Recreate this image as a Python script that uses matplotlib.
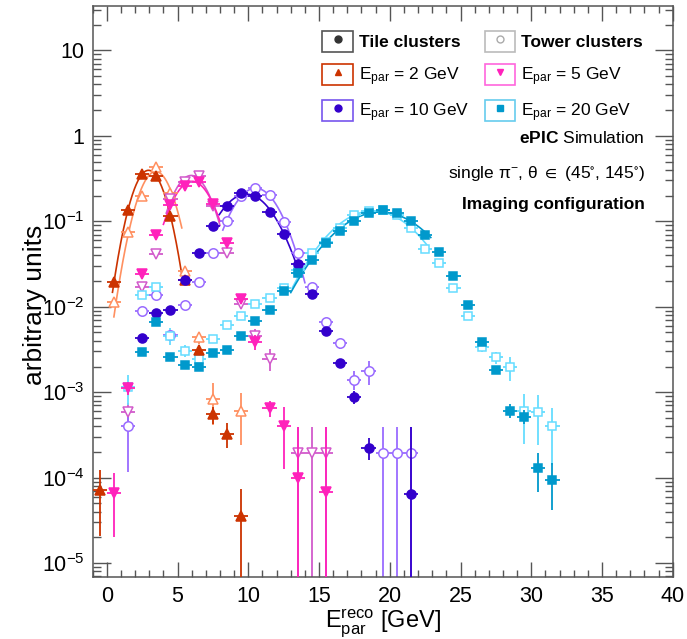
import matplotlib
matplotlib.use('Agg')
import matplotlib.pyplot as plt
import numpy as np
from matplotlib.ticker import MultipleLocator, LogLocator, FuncFormatter, NullFormatter
from matplotlib.patches import Rectangle
from matplotlib.lines import Line2D

plt.rcParams['font.family'] = ['Liberation Sans', 'DejaVu Sans']
plt.rcParams['mathtext.fontset'] = 'custom'
plt.rcParams['mathtext.rm'] = 'Liberation Sans'
plt.rcParams['mathtext.it'] = 'Liberation Sans:italic'
plt.rcParams['mathtext.bf'] = 'Liberation Sans:bold'
plt.rcParams['mathtext.fallback'] = 'stixsans'

# E_par = 2 GeV
red_tile_x = [-0.5, 0.5, 1.5, 2.5, 3.5, 4.5, 5.5, 6.5, 7.5, 8.5, 9.5]
red_tile_y = [7.2e-5, 0.0196, 0.136, 0.356, 0.34, 0.115, 0.0205, 0.0031, 5.5e-4, 3.27e-4, 3.6e-5]
red_tile_e = [5.1e-5, 0, 0, 0, 0, 0, 0, 3e-4, 1.3e-4, 1.05e-4, 3.8e-5]
red_tower_x = [0.5, 1.5, 2.5, 3.5, 4.5, 5.5, 6.5, 7.5, 9.5]
red_tower_y = [0.0114, 0.0755, 0.198, 0.436, 0.213, 0.0261, 0.0044, 8.4e-4, 6.1e-4]
red_tower_e = [0, 0, 0, 0, 0, 0, 7e-4, 4.3e-4, 3.7e-4]

# E_par = 5 GeV
mag_tile_x = [0.5, 1.5, 2.5, 3.5, 4.5, 5.5, 6.5, 7.5, 8.5, 9.5, 10.5, 11.5, 12.5, 13.5, 15.5]
mag_tile_y = [6.65e-5, 1.13e-3, 0.0239, 0.069, 0.155, 0.261, 0.286, 0.158, 0.0552, 0.0123,
              0.00388, 6.6e-4, 3.98e-4, 1.0e-4, 6.8e-5]
mag_tile_e = [4.6e-5, 2e-4, 0, 0, 0, 0, 0, 0, 0, 1.5e-3, 8e-4, 1.4e-4, 2.7e-4, 2.9e-4, 3.2e-4]
mag_tower_x = [1.5, 2.5, 3.5, 4.5, 5.5, 6.5, 7.5, 8.5, 9.5, 10.5, 11.5, 13.5, 14.5, 15.5]
mag_tower_y = [5.9e-4, 0.0171, 0.0414, 0.18, 0.291, 0.34, 0.15, 0.042, 0.0109, 0.0045,
               0.00248, 1.94e-4, 1.94e-4, 1.94e-4]
mag_tower_e = [1.5e-4, 0, 0, 0, 0, 0, 0, 0, 1.5e-3, 1e-3, 7e-4, 1.94e-4, 1.94e-4, 1.94e-4]

# E_par = 10 GeV
pur_tile_x = [2.5, 3.5, 4.5, 5.5, 6.5, 7.5, 8.5, 9.5, 10.5, 11.5, 12.5, 13.5, 14.5, 15.5,
              16.5, 17.5, 18.5, 21.5]
pur_tile_y = [0.0043, 0.0085, 0.0091, 0.0205, 0.042, 0.088, 0.151, 0.213, 0.198, 0.13, 0.0705,
              0.0313, 0.0141, 0.0052, 0.0022, 8.8e-4, 2.24e-4, 6.4e-5]
pur_tile_e = [0, 0, 0, 0, 0, 0, 0, 0, 0, 0, 0, 0, 0, 5e-4, 2.5e-4, 1.6e-4, 6.5e-5, 3.3e-4]
pur_tower_x = [1.5, 2.5, 3.5, 4.5, 5.5, 6.5, 7.5, 8.5, 9.5, 10.5, 11.5, 12.5, 13.5, 14.5, 15.5,
               16.5, 17.5, 18.5, 19.5, 20.5, 21.5]
pur_tower_y = [3.98e-4, 0.00887, 0.0137, 0.0047, 0.0105, 0.0196, 0.042, 0.101, 0.2, 0.244, 0.203,
               0.097, 0.042, 0.0171, 0.00665, 0.00372, 0.0014, 0.00177, 1.94e-4, 1.94e-4, 1.94e-4]
pur_tower_e = [2.8e-4, 0, 0, 0, 0, 0, 0, 0, 0, 0, 0, 0, 0, 0, 0, 5e-4, 3.5e-4, 5.5e-4,
               1.94e-4, 1.94e-4, 1.94e-4]

# E_par = 20 GeV
cy_tile_x = [2.5, 3.5, 4.5, 5.5, 6.5, 7.5, 8.5, 9.5, 10.5, 11.5, 12.5, 13.5, 14.5, 15.5, 16.5,
             17.5, 18.5, 19.5, 20.5, 21.5, 22.5, 23.5, 24.5, 25.5, 26.5, 27.5, 28.5, 29.5, 30.5, 31.5]
cy_tile_y = [0.00296, 0.00665, 0.00259, 0.00207, 0.00195, 0.0029, 0.0031, 0.00454, 0.0069, 0.0092,
             0.0153, 0.0245, 0.0355, 0.0552, 0.078, 0.102, 0.125, 0.134, 0.125, 0.1, 0.069, 0.044,
             0.0229, 0.0106, 0.00388, 0.00184, 6.1e-4, 5.2e-4, 1.3e-4, 9.5e-5]
cy_tile_e = [0] * 24 + [3e-4, 2e-4, 1.1e-4, 1.0e-4, 6.2e-5, 5.3e-5]
cy_tower_x = [1.5, 2.5, 3.5, 4.5, 5.5, 6.5, 7.5, 8.5, 9.5, 10.5, 11.5, 12.5, 13.5, 14.5, 15.5, 16.5,
              17.5, 18.5, 19.5, 20.5, 21.5, 22.5, 23.5, 24.5, 25.5, 26.5, 27.5, 28.5, 29.5, 30.5, 31.5]
cy_tower_y = [1.15e-3, 0.0137, 0.0171, 0.0046, 0.00307, 0.00248, 0.00425, 0.0062, 0.0077, 0.0107,
              0.0127, 0.0165, 0.027, 0.0428, 0.058, 0.083, 0.119, 0.132, 0.135, 0.12, 0.084, 0.048,
              0.0327, 0.0167, 0.0078, 0.00334, 0.00255, 0.00197, 6.0e-4, 5.9e-4, 4.0e-4]
cy_tower_e = [4.5e-4, 0, 0, 1e-3, 5e-4, 5e-4] + [0] * 19 + [4e-4, 4e-4, 6e-4, 3.5e-4, 3.5e-4, 2.6e-4]

# gaussian fit ranges [GeV]
fit_ranges = {'red_tile': (0.4, 5.3), 'red_tower': (0.5, 5.3),
              'mag_tile': (4.0, 8.0), 'mag_tower': (4.2, 8.0),
              'pur_tile': (7.95, 13.6), 'pur_tower': (8.2, 14.0),
              'cy_tile': (13.0, 22.9), 'cy_tower': (13.1, 22.6)}

c_red_tile, c_red_tower = '#CC3300', '#FF9060'
c_mag_tile, c_mag_tower = '#FF22BB', '#D25ACB'
c_pur_tile, c_pur_tower = '#3300CC', '#9A6BFF'
c_cy_tile, c_cy_tower = '#0099CC', '#66DDFF'

fig = plt.figure(figsize=(6.87, 6.39), dpi=100)
ax = fig.add_axes([0.1349, 0.0975, 0.8443, 0.8931])
ax.set_yscale('log')


def draw(x, y, e, color, marker, ms, filled, key):
    x = np.array(x)
    y = np.array(y)
    lo, hi = fit_ranges[key]
    sel = (x >= lo) & (x <= hi)
    p = np.polyfit(x[sel], np.log(y[sel]), 2, w=np.sqrt(y[sel]))
    xf = np.linspace(lo, hi, 200)
    ax.plot(xf, np.exp(np.polyval(p, xf)), color=color, lw=1.2, zorder=2)
    ax.errorbar(x, y, xerr=0.5, yerr=e, fmt=marker, ms=ms, color=color,
                mfc=color if filled else 'white', mec=color, mew=1.1,
                elinewidth=1.3, capsize=0, zorder=3 if filled else 2.5)


draw(red_tower_x, red_tower_y, red_tower_e, c_red_tower, '^', 7.5, False, 'red_tower')
draw(mag_tower_x, mag_tower_y, mag_tower_e, c_mag_tower, 'v', 7.5, False, 'mag_tower')
draw(pur_tower_x, pur_tower_y, pur_tower_e, c_pur_tower, 'o', 6.8, False, 'pur_tower')
draw(cy_tower_x, cy_tower_y, cy_tower_e, c_cy_tower, 's', 6.3, False, 'cy_tower')
draw(red_tile_x, red_tile_y, red_tile_e, c_red_tile, '^', 7, True, 'red_tile')
draw(mag_tile_x, mag_tile_y, mag_tile_e, c_mag_tile, 'v', 7, True, 'mag_tile')
draw(pur_tile_x, pur_tile_y, pur_tile_e, c_pur_tile, 'o', 6.5, True, 'pur_tile')
draw(cy_tile_x, cy_tile_y, cy_tile_e, c_cy_tile, 's', 5.5, True, 'cy_tile')

ax.set_xlim(-1, 40)
ax.set_ylim(6.95e-6, 33)

ax.xaxis.set_major_locator(MultipleLocator(5))
ax.xaxis.set_minor_locator(MultipleLocator(1))
ax.yaxis.set_major_locator(LogLocator(base=10, numticks=20))
ax.yaxis.set_minor_locator(LogLocator(base=10, subs=np.arange(2, 10), numticks=20))
ax.yaxis.set_minor_formatter(NullFormatter())


def yfmt(v, pos):
    if abs(v - 1) < 1e-9:
        return '1'
    if abs(v - 10) < 1e-9:
        return '10'
    return r'$10^{%d}$' % int(round(np.log10(v)))


ax.yaxis.set_major_formatter(FuncFormatter(yfmt))
ax.tick_params(which='both', direction='in', top=True, right=True, colors='#555555',
               labelcolor='black', labelsize=15.5, width=1.0)
ax.tick_params(axis='y', which='major', length=13, pad=6)
ax.tick_params(axis='y', which='minor', length=6)
ax.tick_params(axis='x', which='major', length=11, pad=7)
ax.tick_params(axis='x', which='minor', length=5)
for s in ax.spines.values():
    s.set_color('#555555')
    s.set_linewidth(1.1)

ax.set_ylabel('arbitrary units', fontsize=19)
ax.yaxis.set_label_coords(-0.079, 0.476)
ax.set_xlabel(r'E$^{\rm reco}_{\rm par}$ [GeV]', fontsize=17)
ax.xaxis.set_label_coords(0.5, -0.053)


def entry(edge, marker, mfc, mec, ms):
    box = Rectangle((0, 0), 1, 1, facecolor='white', edgecolor=edge, lw=1.2)
    mk = Line2D([], [], ls='none', marker=marker, ms=ms, mfc=mfc, mec=mec)
    return (box, mk)


handles = [entry('#555555', 'o', '#333333', '#333333', 5),
           entry(c_red_tile, '^', c_red_tile, c_red_tile, 5),
           entry('#7755EE', 'o', c_pur_tile, c_pur_tile, 5),
           entry('#BBBBBB', 'o', 'white', '#AAAAAA', 5),
           entry('#FF66DD', 'v', c_mag_tile, c_mag_tile, 5),
           entry('#66CCEE', 's', c_cy_tile, c_cy_tile, 5)]
labels = ['Tile clusters', r'E$_{\rm par}$ = 2 GeV', r'E$_{\rm par}$ = 10 GeV',
          'Tower clusters', r'E$_{\rm par}$ = 5 GeV', r'E$_{\rm par}$ = 20 GeV']
leg = ax.legend(handles, labels, ncol=2, loc='upper right', bbox_to_anchor=(0.97, 0.978),
                frameon=False, fontsize=12.5, handlelength=1.75, handleheight=1.5,
                handletextpad=0.35, columnspacing=0.9, labelspacing=0.68, borderpad=0.2)
for t in (leg.get_texts()[0], leg.get_texts()[3]):
    t.set_fontweight('bold')

ax.text(0.952, 0.769, r'$\bf{ePIC}$ Simulation', transform=ax.transAxes,
        ha='right', va='center', fontsize=12.5)
ax.text(0.952, 0.707, r'single π$^{-}$, θ $\in$ (45$^{\circ}$, 145$^{\circ}$)',
        transform=ax.transAxes, ha='right', va='center', fontsize=12.5)
ax.text(0.952, 0.653, 'Imaging configuration', transform=ax.transAxes,
        ha='right', va='center', fontsize=12.5, fontweight='bold')

fig.savefig('out.png', dpi=100)
